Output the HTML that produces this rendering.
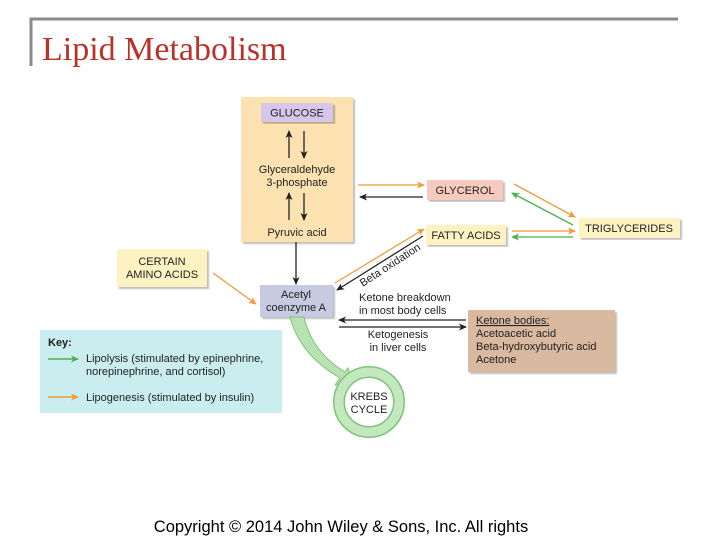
<!DOCTYPE html>
<html><head><meta charset="utf-8"><style>
body{margin:0;background:#fff;}
svg{display:block;font-family:"Liberation Sans",Arial,sans-serif;}
</style></head><body>
<svg width="720" height="540" viewBox="0 0 720 540">
<defs>
<marker id="ab" markerWidth="8" markerHeight="8" refX="7" refY="4" orient="auto" markerUnits="userSpaceOnUse"><path d="M0,0.5 L8,4 L0,7.5 L2,4z" fill="#222"/></marker>
<marker id="ao" markerWidth="8" markerHeight="8" refX="7" refY="4" orient="auto" markerUnits="userSpaceOnUse"><path d="M0,0.5 L8,4 L0,7.5 L2,4z" fill="#ef9a3c"/></marker>
<marker id="ag" markerWidth="8" markerHeight="8" refX="7" refY="4" orient="auto" markerUnits="userSpaceOnUse"><path d="M0,0.5 L8,4 L0,7.5 L2,4z" fill="#4cb050"/></marker>
<filter id="sh"><feDropShadow dx="2" dy="2" stdDeviation="0.8" flood-color="#000" flood-opacity="0.25"/></filter>
</defs>
<path d="M31,66 V19 H678" fill="none" stroke="#8a8a8a" stroke-width="3"/>
<text x="42" y="60" font-size="34" fill="#b8322a" style="font-family:'Liberation Serif',serif">Lipid Metabolism</text>

<g font-size="11" fill="#222">
<rect x="241" y="97" width="112" height="145" fill="#fbe2b0" filter="url(#sh)"/>
<rect x="261" y="103" width="72" height="19" fill="#d5c6ea" filter="url(#sh)"/>
<text x="297" y="116.5" text-anchor="middle">GLUCOSE</text>
<line x1="289" y1="158" x2="289" y2="131" stroke="#222" stroke-width="1.3" marker-end="url(#ab)"/>
<line x1="304" y1="131" x2="304" y2="158" stroke="#222" stroke-width="1.3" marker-end="url(#ab)"/>
<text x="297" y="173" text-anchor="middle">Glyceraldehyde</text>
<text x="297" y="186" text-anchor="middle">3-phosphate</text>
<line x1="289" y1="220" x2="289" y2="193" stroke="#222" stroke-width="1.3" marker-end="url(#ab)"/>
<line x1="304" y1="193" x2="304" y2="220" stroke="#222" stroke-width="1.3" marker-end="url(#ab)"/>
<text x="297" y="236" text-anchor="middle">Pyruvic acid</text>
<line x1="296" y1="242" x2="296" y2="284" stroke="#222" stroke-width="1.3" marker-end="url(#ab)"/>

<rect x="260" y="285" width="73" height="32" fill="#c6cbe2" filter="url(#sh)"/>
<text x="296" y="298" text-anchor="middle">Acetyl</text>
<text x="296" y="311" text-anchor="middle">coenzyme A</text>

<rect x="427" y="180" width="76" height="20" fill="#f6cabf" filter="url(#sh)"/>
<text x="465" y="194" text-anchor="middle">GLYCEROL</text>
<line x1="358" y1="185" x2="424" y2="185" stroke="#ef9a3c" stroke-width="1.3" marker-end="url(#ao)"/>
<line x1="423" y1="197" x2="360" y2="197" stroke="#222" stroke-width="1.3" marker-end="url(#ab)"/>

<rect x="426" y="225" width="80" height="20" fill="#fdf3c2" filter="url(#sh)"/>
<text x="466" y="239" text-anchor="middle">FATTY ACIDS</text>
<rect x="579" y="218" width="101" height="20" fill="#fdf3c2" filter="url(#sh)"/>
<text x="629" y="232" text-anchor="middle">TRIGLYCERIDES</text>
<line x1="514" y1="184" x2="575" y2="217" stroke="#ef9a3c" stroke-width="1.3" marker-end="url(#ao)"/>
<line x1="573" y1="225" x2="512" y2="193" stroke="#4cb050" stroke-width="1.3" marker-end="url(#ag)"/>
<line x1="512" y1="231" x2="575" y2="231" stroke="#ef9a3c" stroke-width="1.3" marker-end="url(#ao)"/>
<line x1="573" y1="237" x2="512" y2="237" stroke="#4cb050" stroke-width="1.3" marker-end="url(#ag)"/>

<line x1="335" y1="283" x2="424" y2="229" stroke="#ef9a3c" stroke-width="1.3" marker-end="url(#ao)"/>
<line x1="423" y1="236" x2="337" y2="290" stroke="#222" stroke-width="1.3" marker-end="url(#ab)"/>
<text x="392" y="268" text-anchor="middle" transform="rotate(-33 392 268)">Beta oxidation</text>

<rect x="117" y="249" width="90" height="38" fill="#fdf3c2" filter="url(#sh)"/>
<text x="162" y="265" text-anchor="middle">CERTAIN</text>
<text x="162" y="278" text-anchor="middle">AMINO ACIDS</text>
<line x1="213" y1="273" x2="256" y2="304" stroke="#ef9a3c" stroke-width="1.3" marker-end="url(#ao)"/>

<text x="359" y="301">Ketone breakdown</text>
<text x="359" y="314">in most body cells</text>
<line x1="466" y1="320" x2="339" y2="320" stroke="#222" stroke-width="1.3" marker-end="url(#ab)"/>
<line x1="339" y1="327" x2="466" y2="327" stroke="#222" stroke-width="1.3" marker-end="url(#ab)"/>
<text x="398" y="338" text-anchor="middle">Ketogenesis</text>
<text x="398" y="351" text-anchor="middle">in liver cells</text>

<rect x="468" y="310" width="147" height="62" fill="#d9b9a0" filter="url(#sh)"/>
<text x="476" y="324" text-decoration="underline">Ketone bodies:</text>
<text x="476" y="337">Acetoacetic acid</text>
<text x="476" y="350">Beta-hydroxybutyric acid</text>
<text x="476" y="363">Acetone</text>

<rect x="40" y="330" width="242" height="83" fill="#caedf0"/>
<text x="48" y="346" font-weight="bold">Key:</text>
<line x1="48" y1="359" x2="78" y2="359" stroke="#4cb050" stroke-width="1.5" marker-end="url(#ag)"/>
<text x="86" y="362">Lipolysis (stimulated by epinephrine,</text>
<text x="86" y="375">norepinephrine, and cortisol)</text>
<line x1="48" y1="397" x2="78" y2="397" stroke="#ef9a3c" stroke-width="1.5" marker-end="url(#ao)"/>
<text x="86" y="401">Lipogenesis (stimulated by insulin)</text>

<path d="M290,317 Q300,355 340,378 L335,385 L352,384 L348,368 L345,372 Q312,352 304,317 Z" fill="#b9e2b2" stroke="#7cc47a" stroke-width="1"/>
<circle cx="369" cy="402" r="30" fill="none" stroke="#7cc47a" stroke-width="12"/>
<circle cx="369" cy="402" r="30" fill="none" stroke="#c3e8bd" stroke-width="9"/>
<text x="369" y="400" text-anchor="middle">KREBS</text>
<text x="369" y="413" text-anchor="middle">CYCLE</text>
</g>

<text x="341" y="532" text-anchor="middle" font-size="16.5" fill="#000">Copyright © 2014 John Wiley &amp; Sons, Inc. All rights</text>
</svg>
</body></html>
